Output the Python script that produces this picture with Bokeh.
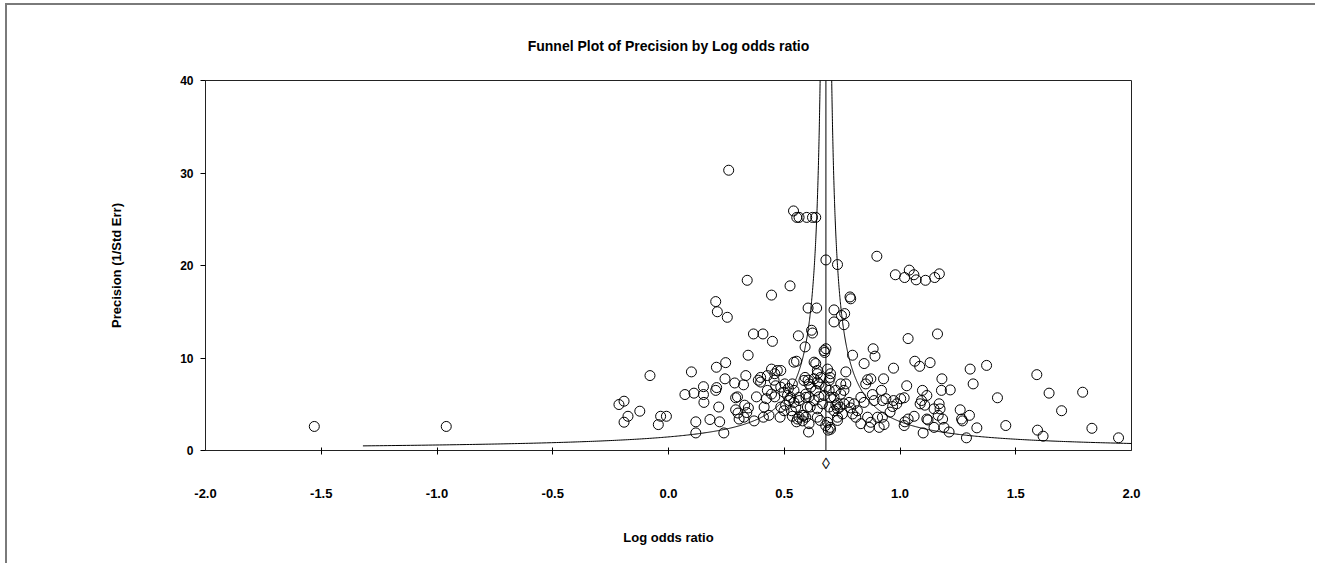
import numpy as np
from bokeh.plotting import figure
from bokeh.models import Range1d, FixedTicker, LinearAxis, NumeralTickFormatter, CustomJSTickFormatter
from bokeh.embed import file_html
from bokeh.resources import INLINE

# ---- data ----
log_odds = [
    -1.53, -0.96, 0.26, 0.54, 0.554, 0.564, 0.597, 0.622, 0.636, 0.68, 0.73, 0.90,
    0.98, 1.02, 1.04, 1.06, 1.07, 1.11, 1.15, 1.17,
    0.34, 0.525, 0.445, 0.784, 0.787, 0.204, 0.211, 0.254,
    0.603, 0.64, 0.715, 0.761, 0.747, 0.715, 0.758,
    0.367, 0.408, 0.449, 0.561, 0.618, 0.622, 0.59, 1.035, 1.162,
    0.344, 0.672, 0.675, 0.68, 0.795, 0.884, 0.892,
    0.845, 0.972, 1.064, 1.085, 1.13, 1.303, 1.374,
    -0.08, 0.099, 0.207, 0.247, 0.542, 0.553, 0.629, 0.636, 0.643,
    1.591, 1.644, 1.789, 1.698, 1.421, 1.457, 1.594, 1.618, 1.829, 1.944, 1.287, 1.332, 1.316, 1.26, 1.266, 1.30, 1.27,
    -0.214, -0.192, -0.175, -0.192, -0.124, -0.034, -0.009, -0.044,
    0.071, 0.11, 0.151, 0.151, 0.153, 0.118, 0.118, 0.179, 0.221, 0.239, 0.217, 0.208, 0.204, 0.244,
    0.286, 0.324, 0.334, 0.29, 0.298, 0.29, 0.30, 0.329, 0.345, 0.338, 0.305, 0.326, 0.37, 0.38,
    0.388, 0.398, 0.398, 0.427, 0.413, 0.423, 0.41, 0.434,
    0.445, 0.459, 0.47, 0.485, 0.456, 0.463, 0.427, 0.445, 0.459, 0.485, 0.502, 0.518, 0.499, 0.514,
    0.535, 0.542, 0.521, 0.542, 0.564, 0.485, 0.506, 0.531, 0.55, 0.499, 0.528, 0.482, 0.535, 0.557,
    0.579, 0.553, 0.579, 0.593, 0.605, 0.607,
    0.59, 0.603, 0.629, 0.643, 0.615, 0.636, 0.585, 0.607, 0.643, 0.65, 0.593,
    0.607, 0.629, 0.65, 0.612, 0.643, 0.564, 0.594, 0.564, 0.585, 0.643, 0.655, 0.60,
    0.687, 0.70, 0.698, 0.657, 0.694, 0.766, 0.86, 0.874, 0.852, 0.929, 1.029, 1.181,
    0.744, 0.766, 0.758, 0.744, 0.723, 0.679, 0.694, 0.672, 0.70, 0.665, 0.694, 0.715, 0.73,
    0.92, 0.939, 0.924, 0.881, 0.888, 0.972, 0.986, 0.968, 1.003, 1.018,
    1.097, 1.093, 1.087, 1.107, 1.169, 1.217, 1.179, 1.116,
    1.147, 1.173, 1.165, 1.184,
    1.212, 1.19, 1.147, 1.121, 1.116, 1.061, 1.035, 1.021, 1.018, 1.10,
    0.957, 0.924, 0.931, 0.91, 0.903, 0.874, 0.867, 0.86, 0.831, 0.809, 0.795, 0.816,
    0.78, 0.802, 0.787, 0.723, 0.73, 0.715, 0.751, 0.73, 0.687, 0.698, 0.679, 0.73, 0.845, 0.831,
    0.74, 0.758, 0.70, 0.69,
]
precision = [
    2.6, 2.6, 30.3, 25.9, 25.2, 25.2, 25.2, 25.2, 25.2, 20.6, 20.1, 21.0,
    19.0, 18.7, 19.5, 19.0, 18.45, 18.4, 18.7, 19.1,
    18.4, 17.8, 16.8, 16.6, 16.4, 16.1, 15.0, 14.4,
    15.4, 15.4, 15.2, 14.8, 14.6, 13.9, 13.6,
    12.6, 12.6, 11.8, 12.4, 13.0, 12.7, 11.2, 12.1, 12.6,
    10.3, 10.8, 10.6, 11.0, 10.3, 11.0, 10.2,
    9.4, 8.9, 9.65, 9.1, 9.5, 8.8, 9.2,
    8.1, 8.5, 9.0, 9.5, 9.55, 9.65, 9.55, 9.4, 8.65,
    8.2, 6.2, 6.3, 4.3, 5.7, 2.7, 2.2, 1.55, 2.4, 1.37, 1.37, 2.45, 7.2, 4.4, 3.4, 3.8, 3.2,
    4.97, 5.33, 3.7, 3.06, 4.25, 3.7, 3.7, 2.8,
    6.05, 6.2, 6.9, 6.05, 5.2, 3.1, 1.9, 3.35, 3.1, 1.9, 4.7, 6.8, 6.5, 7.75,
    7.3, 7.1, 8.1, 5.7, 5.8, 4.4, 4.05, 4.9, 4.6, 4.1, 3.4, 3.6, 3.2, 5.8,
    7.6, 7.9, 7.4, 8.1, 4.7, 5.6, 3.6, 3.8,
    8.8, 8.3, 8.65, 8.65, 7.6, 7.0, 6.5, 6.1, 5.8, 6.85, 7.2, 6.7, 6.3, 5.95,
    7.2, 6.5, 5.4, 5.2, 5.4, 4.7, 4.9, 4.3, 4.7, 4.3, 5.75, 3.6, 3.7, 3.4,
    3.8, 3.1, 3.2, 3.6, 2.0, 2.9,
    7.9, 7.6, 7.75, 7.4, 6.85, 6.5, 7.57, 7.2, 8.3, 7.2, 6.1,
    5.8, 5.4, 5.8, 4.7, 4.5, 5.75, 5.75, 3.6, 3.8, 3.6, 3.25, 4.7,
    8.8, 8.3, 7.9, 7.9, 7.57, 8.5, 7.65, 7.75, 7.2, 7.75, 7.0, 7.75,
    7.2, 7.2, 6.5, 6.1, 6.5, 6.85, 6.5, 5.95, 5.75, 5.05, 4.7, 5.75, 5.05,
    6.5, 5.6, 5.4, 6.05, 5.4, 5.4, 5.05, 4.75, 5.6, 5.7,
    6.5, 5.4, 5.05, 4.9, 5.05, 6.55, 6.5, 5.95,
    4.5, 4.5, 3.8, 3.4,
    2.0, 2.5, 2.5, 3.3, 3.4, 3.7, 3.4, 3.1, 2.7, 1.9,
    4.15, 3.6, 2.8, 2.5, 3.6, 3.05, 2.5, 3.6, 2.9, 3.6, 3.95, 4.3,
    5.2, 5.05, 4.6, 4.9, 4.5, 4.3, 3.95, 3.6, 3.05, 2.5, 2.7, 3.25, 5.2, 5.75,
    4.7, 5.05, 2.3, 2.2,
]
pooled_log_odds = 0.68
x_ticks = [-2.0, -1.5, -1.0, -0.5, 0.0, 0.5, 1.0, 1.5, 2.0]
y_ticks = [0, 10, 20, 30, 40]

FONT = "Liberation Sans"

p = figure(
    width=1310, height=560,
    output_backend="svg", toolbar_location=None,
    x_range=Range1d(-2, 2), y_range=Range1d(0, 40),
    x_axis_location=None,
    min_border_left=198, min_border_right=186,
    min_border_top=75, min_border_bottom=115,
)
# outer chart frame (left and top edges are visible in the reference)
p.styles = {"margin-left": "5px", "margin-top": "3px",
            "border-left": "2px solid #7a7a7a", "border-top": "2px solid #7a7a7a"}

p.title.text = "Funnel Plot of Precision by Log odds ratio"
p.title.align = "center"
p.title.text_font = FONT
p.title.text_font_size = "14px"
p.title.text_font_style = "bold"
p.title.text_color = "black"
p.title.standoff = 54

p.grid.visible = False
p.outline_line_color = "#222222"
p.outline_line_width = 1
p.background_fill_color = "white"
p.border_fill_color = "white"

# funnel lines (pooled estimate +/- 1/precision)
prec_line = np.geomspace(0.5, 45, 500)
p.line(pooled_log_odds - 1.0 / prec_line, prec_line, line_color="black", line_width=1)
p.line(pooled_log_odds + 1.0 / prec_line, prec_line, line_color="black", line_width=1)
p.line([pooled_log_odds, pooled_log_odds], [0, 40], line_color="black", line_width=1)

p.scatter(log_odds, precision, marker="circle", size=10, fill_color=None,
          line_color="black", line_width=1)

# x axis built from three stacked axes: tick marks, pooled-estimate diamond, numbers
tick_axis = LinearAxis(
    ticker=FixedTicker(ticks=x_ticks[1:-1]),
    formatter=CustomJSTickFormatter(code="return ''"),
    major_tick_in=3, major_tick_out=4, minor_tick_line_color=None,
    major_label_standoff=0, major_label_text_font_size="1px",
    axis_line_color="#222222",
)
diamond_axis = LinearAxis(
    ticker=FixedTicker(ticks=[pooled_log_odds]),
    formatter=CustomJSTickFormatter(code="return '\u25ca'"),
    major_tick_in=0, major_tick_out=0, major_tick_line_color=None,
    minor_tick_line_color=None, axis_line_color=None,
    major_label_standoff=0, major_label_text_font=FONT,
    major_label_text_font_size="16px", major_label_text_color="black",
)
num_axis = LinearAxis(
    ticker=FixedTicker(ticks=x_ticks),
    formatter=NumeralTickFormatter(format="0.0"),
    major_tick_in=0, major_tick_out=0, major_tick_line_color=None,
    minor_tick_line_color=None, axis_line_color=None,
    major_label_standoff=14, major_label_text_font=FONT,
    major_label_text_font_size="13px", major_label_text_font_style="bold",
    major_label_text_color="black",
    axis_label="Log odds ratio", axis_label_standoff=29,
    axis_label_text_font=FONT, axis_label_text_font_size="13px",
    axis_label_text_font_style="bold", axis_label_text_color="black",
)
p.add_layout(tick_axis, "below")
p.add_layout(diamond_axis, "below")
p.add_layout(num_axis, "below")

ya = p.yaxis[0]
ya.ticker = FixedTicker(ticks=y_ticks)
ya.major_tick_in = 0
ya.major_tick_out = 5
ya.minor_tick_line_color = None
ya.major_label_standoff = 7
ya.major_label_text_font = FONT
ya.major_label_text_font_size = "12px"
ya.major_label_text_font_style = "bold"
ya.major_label_text_color = "black"
ya.axis_label = "Precision (1/Std Err)"
ya.axis_label_standoff = 53
ya.axis_label_text_font = FONT
ya.axis_label_text_font_size = "13px"
ya.axis_label_text_font_style = "bold"
ya.axis_label_text_color = "black"
ya.axis_line_color = "#222222"

open("out.html", "w").write(file_html(p, INLINE))
